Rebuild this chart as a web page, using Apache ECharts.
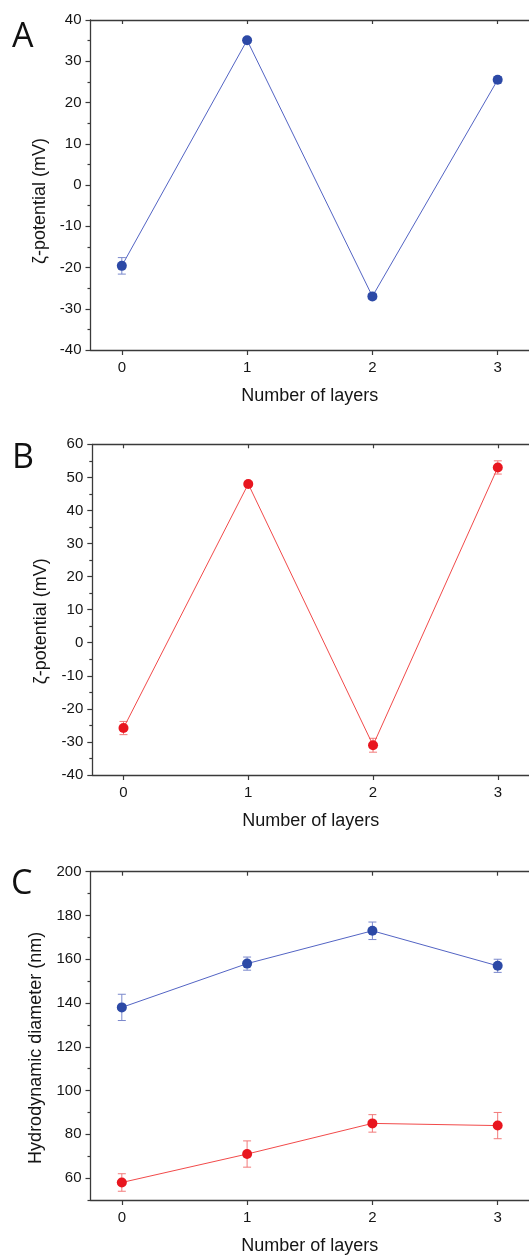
<!DOCTYPE html>
<html>
<head>
<meta charset="utf-8">
<script src="https://cdn.jsdelivr.net/npm/echarts@6/dist/echarts.min.js"></script>
<style>
html,body{margin:0;padding:0;background:#fff;}
#c{width:529px;height:1256px;}
</style>
</head>
<body>
<div id="c"></div>
<script>
// ---- data ----
var layers = [0, 1, 2, 3];
var xTicks = [0, 1, 2, 3];

var zetaA = [-19.6, 35.1, -27.0, 25.5];
var zetaAErr = [2.0, 0.6, 0.7, 0.8];

var zetaB = [-25.8, 48.0, -31.0, 53.0];
var zetaBErr = [2.0, 0.7, 2.1, 2.0];

var sizeBlue = [138, 158, 173, 157];
var sizeBlueErr = [6, 3, 4, 3];
var sizeRed = [58, 71, 85, 84];
var sizeRedErr = [4, 6, 4, 6];

var yTicksC = [60, 80, 100, 120, 140, 160, 180, 200];
var yMinorTicksC = [50, 70, 90, 110, 130, 150, 170, 190];

var panelLabels = ['A', 'B', 'C'];
var xName = 'Number of layers';
var yNameZeta = 'ζ-potential (mV)';
var yNameSize = 'Hydrodynamic diameter (nm)';

// ---- styles ----
var BLUE_M = '#2c49a6', BLUE_L = '#5364c4', BLUE_E = '#7a88cc';
var RED_M = '#e8161f', RED_L = '#f24a4a', RED_E = '#f27a7a';
var AX = '#3a3a3a';
var TXT = '#151515';
var FONT = 'Liberation Sans, Arial, sans-serif';

var chart = echarts.init(document.getElementById('c'), null, {renderer: 'canvas'});

function pairs(v) { return layers.map(function (x, i) { return [x, v[i]]; }); }
function errs(v, e) { return layers.map(function (x, i) { return [x, v[i] - e[i], v[i] + e[i]]; }); }

function errRender(color) {
  return function (params, api) {
    var x = api.value(0), lo = api.value(1), hi = api.value(2);
    var p1 = api.coord([x, lo]), p2 = api.coord([x, hi]);
    var w = 4;
    var st = {stroke: color, lineWidth: 1};
    return {
      type: 'group',
      children: [
        {type: 'line', shape: {x1: p1[0], y1: p1[1], x2: p2[0], y2: p2[1]}, style: st},
        {type: 'line', shape: {x1: p1[0] - w, y1: p1[1], x2: p1[0] + w, y2: p1[1]}, style: st},
        {type: 'line', shape: {x1: p2[0] - w, y1: p2[1], x2: p2[0] + w, y2: p2[1]}, style: st}
      ]
    };
  };
}

var grids = [
  {left: 90.5, top: 20, width: 440, height: 330},
  {left: 92.3, top: 444.3, width: 440, height: 330.7},
  {left: 90.5, top: 871.7, width: 440, height: 330}
];

var xAxes = [], yAxes = [];
for (var g = 0; g < 3; g++) {
  xAxes.push({
    type: 'value', gridIndex: g, position: 'bottom', min: -0.25, max: 3.25,
    axisLine: {show: true, onZero: false, lineStyle: {color: AX, width: 1.3}},
    axisTick: {show: true, length: 5, customValues: xTicks, lineStyle: {color: AX, width: 1.2}},
    axisLabel: {show: true, customValues: xTicks, margin: 10, fontFamily: FONT, fontSize: 15, color: TXT},
    splitLine: {show: false},
    name: xName, nameLocation: 'middle', nameGap: 37,
    nameTextStyle: {fontFamily: FONT, fontSize: 18, color: TXT}
  });
  xAxes.push({
    type: 'value', gridIndex: g, position: 'top', min: -0.25, max: 3.25,
    axisLine: {show: true, onZero: false, lineStyle: {color: AX, width: 1.3}},
    axisTick: {show: true, inside: true, length: 4, customValues: xTicks, lineStyle: {color: AX, width: 1.2}},
    axisLabel: {show: false},
    splitLine: {show: false}
  });
}

var yCommon = function (g) {
  return {
    type: 'value', gridIndex: g, position: 'left',
    axisLine: {show: true, onZero: false, lineStyle: {color: AX, width: 1.3}},
    axisTick: {show: true, length: 5, lineStyle: {color: AX, width: 1.2}},
    axisLabel: {margin: 9, fontFamily: FONT, fontSize: 15, color: TXT},
    splitLine: {show: false},
    nameLocation: 'middle',
    nameTextStyle: {fontFamily: FONT, fontSize: 18, color: TXT}
  };
};

var yA = yCommon(0);
yA.min = -40; yA.max = 40; yA.interval = 10;
yA.minorTick = {show: true, splitNumber: 2, length: 3, lineStyle: {color: AX, width: 1.2}};
yA.name = yNameZeta; yA.nameGap = 41;
yA.nameTextStyle.padding = [0, 32, 0, 0];
yAxes.push(yA);

var yB = yCommon(1);
yB.min = -40; yB.max = 60; yB.interval = 10;
yB.minorTick = {show: true, splitNumber: 2, length: 3, lineStyle: {color: AX, width: 1.2}};
yB.name = yNameZeta; yB.nameGap = 42;
yB.nameTextStyle.padding = [0, 23, 0, 0];
yAxes.push(yB);

var yC = yCommon(2);
yC.min = 50; yC.max = 200;
yC.axisTick.customValues = yTicksC;
yC.axisLabel.customValues = yTicksC;
yC.name = yNameSize; yC.nameGap = 45;
yC.nameTextStyle.padding = [0, 24, 0, 0];
yAxes.push(yC);

yAxes.push({
  type: 'value', gridIndex: 2, position: 'left', min: 50, max: 200, offset: 0,
  axisLine: {show: false, onZero: false},
  axisTick: {show: true, length: 3, customValues: yMinorTicksC, lineStyle: {color: AX, width: 1.2}},
  axisLabel: {show: false},
  splitLine: {show: false}
});

function lineSeries(xi, yi, data, lc, mc) {
  return {
    type: 'line', xAxisIndex: xi, yAxisIndex: yi, data: data,
    symbol: 'circle', symbolSize: 10, z: 3,
    lineStyle: {color: lc, width: 1},
    itemStyle: {color: mc},
    animation: false
  };
}
function errSeries(xi, yi, data, c) {
  return {
    type: 'custom', xAxisIndex: xi, yAxisIndex: yi, data: data,
    encode: {x: 0, y: [1, 2]}, renderItem: errRender(c), z: 2, animation: false
  };
}

var series = [
  errSeries(0, 0, errs(zetaA, zetaAErr), BLUE_E),
  lineSeries(0, 0, pairs(zetaA), BLUE_L, BLUE_M),
  errSeries(2, 1, errs(zetaB, zetaBErr), RED_E),
  lineSeries(2, 1, pairs(zetaB), RED_L, RED_M),
  errSeries(4, 2, errs(sizeBlue, sizeBlueErr), BLUE_E),
  lineSeries(4, 2, pairs(sizeBlue), BLUE_L, BLUE_M),
  errSeries(4, 2, errs(sizeRed, sizeRedErr), RED_E),
  lineSeries(4, 2, pairs(sizeRed), RED_L, RED_M)
];

var labelPos = [[12, 37], [12, 458], [11, 884]];
var graphics = panelLabels.map(function (t, i) {
  return {
    type: 'text', x: labelPos[i][0], y: labelPos[i][1],
    style: {text: t, font: '34px "Open Sans", sans-serif', fill: '#111', textAlign: 'left', textVerticalAlign: 'middle'}
  };
});

chart.setOption({
  backgroundColor: '#fff',
  animation: false,
  grid: grids,
  xAxis: xAxes,
  yAxis: yAxes,
  series: series,
  graphic: graphics
});
</script>
</body>
</html>
